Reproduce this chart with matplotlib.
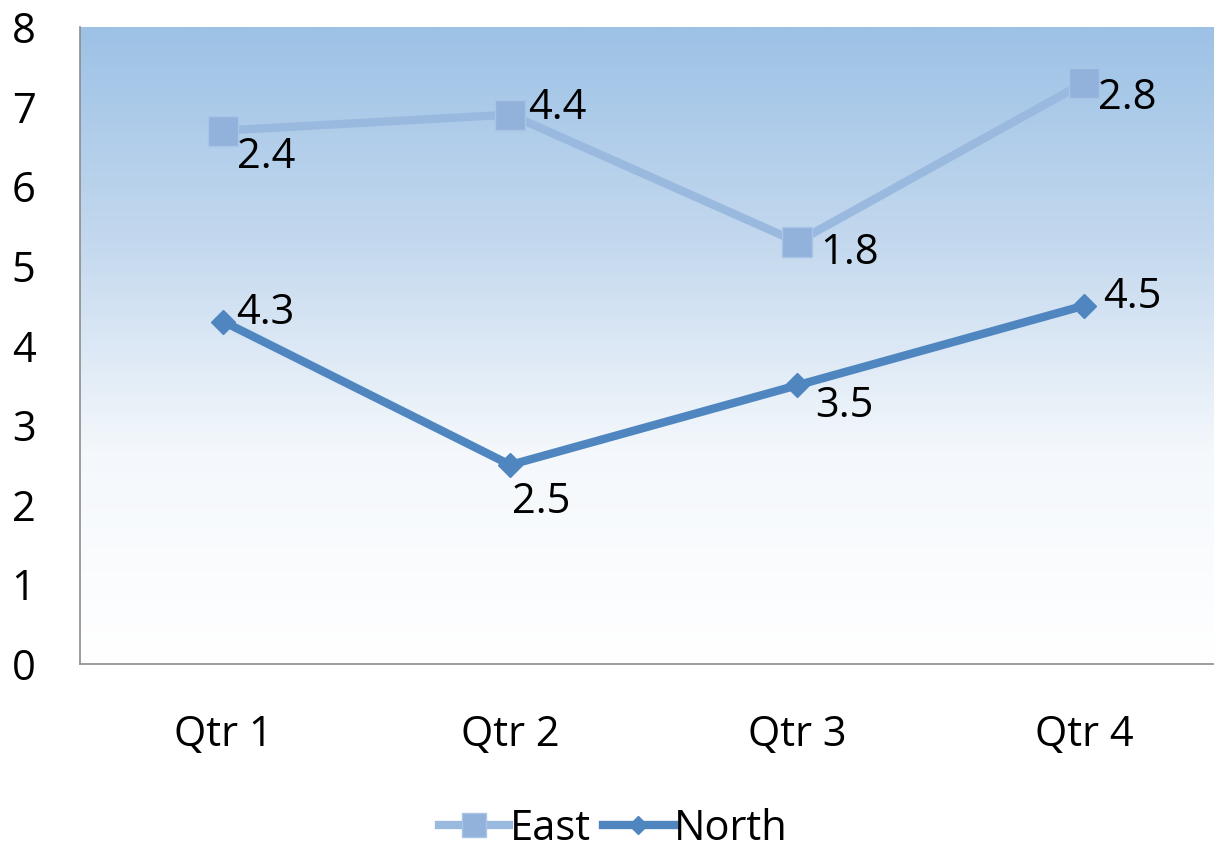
import numpy as np
import matplotlib.pyplot as plt
from matplotlib.colors import LinearSegmentedColormap

quarters = ["Qtr 1", "Qtr 2", "Qtr 3", "Qtr 4"]
north = [4.3, 2.5, 3.5, 4.5]
east = [2.4, 4.4, 1.8, 2.8]   # stacked on top of North

plt.rcParams['font.family'] = ['Open Sans', 'DejaVu Sans']

fig = plt.figure(figsize=(12.14, 8.55), dpi=100)
ax = fig.add_axes([0.0659, 0.2234, 0.9341, 0.745])

x = np.arange(len(quarters))
east_top = np.array(north) + np.array(east)

# fond en degrade
cmap = LinearSegmentedColormap.from_list("bg", ["#ffffff", "#f4f8fc", "#c3d8ee", "#9dc2e6"])
grad = np.linspace(0, 1, 256).reshape(-1, 1)
ax.imshow(grad, extent=[-0.5, 3.5, 0, 8], origin='lower', aspect='auto', cmap=cmap, zorder=0)

ax.plot(x, east_top, color="#9ab9df", lw=6, marker='s', ms=21, mfc="#92b2dc", mec="#a9c4e6",
        zorder=3, label="East")
ax.plot(x, north, color="#4f86c0", lw=6, marker='D', ms=12, mfc="#4f86c0", mec="#4f86c0",
        zorder=3, label="North")

east_off = [(14, -26), (18, 7), (23, -11), (14, -15)]
north_off = [(13, 9), (2, -37), (18, -21), (19, 9)]
for i in range(len(x)):
    ax.annotate(f"{east[i]}", (x[i], east_top[i]), xytext=east_off[i], textcoords='offset pixels',
                fontsize=30, ha='left', va='center', zorder=4)
    ax.annotate(f"{north[i]}", (x[i], north[i]), xytext=north_off[i], textcoords='offset pixels',
                fontsize=30, ha='left', va='center', zorder=4)

ax.set_xlim(-0.5, 3.453)
ax.set_ylim(0, 8)
ax.set_yticks(range(9))
ax.set_xticks(x)
ax.set_xticklabels(quarters)
ax.tick_params(axis='both', length=0, labelsize=30)
ax.tick_params(axis='y', pad=32)
ax.tick_params(axis='x', pad=36)
for s in ['top', 'right']:
    ax.spines[s].set_visible(False)
for s in ['left', 'bottom']:
    ax.spines[s].set_color("#8c8c8c")
    ax.spines[s].set_linewidth(1.2)

fig.legend(loc='lower center', ncol=2, frameon=False, fontsize=30, bbox_to_anchor=(0.505, -0.038),
           handlelength=1.7, columnspacing=0.3, handletextpad=0.0, markerscale=0.8)

fig.savefig("out.png", dpi=100)
